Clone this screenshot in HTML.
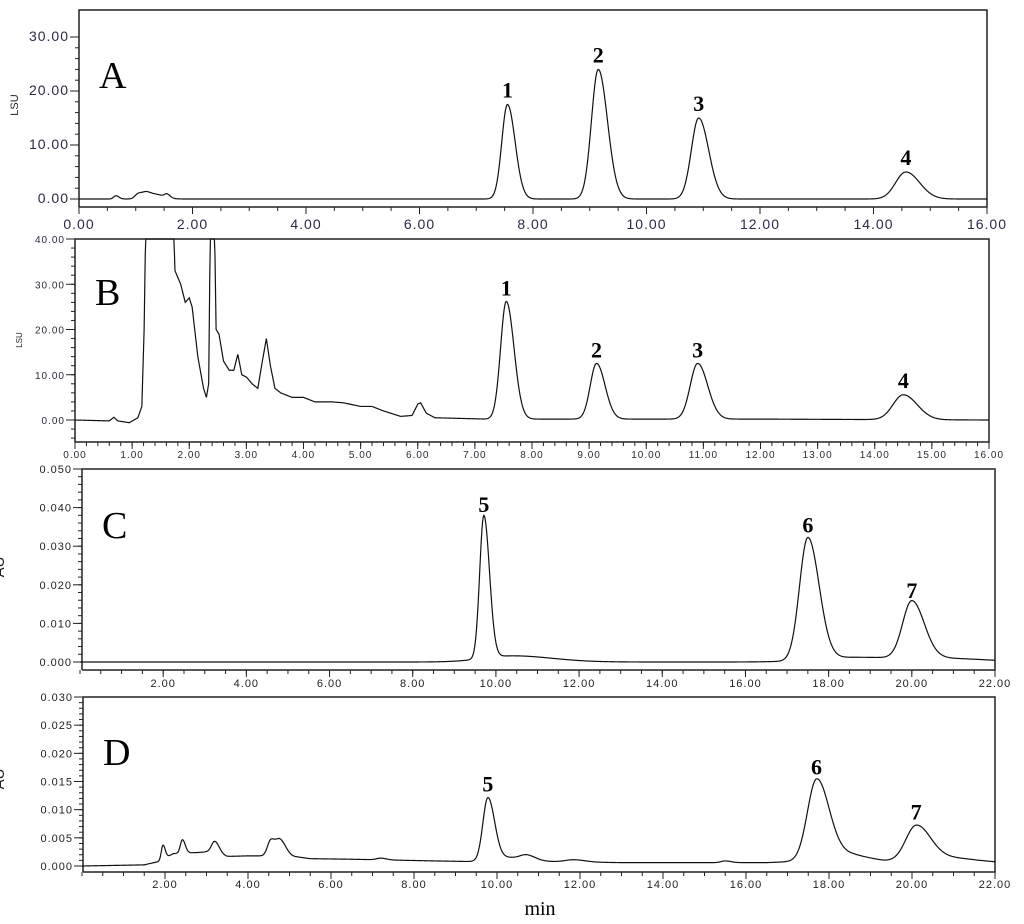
<!DOCTYPE html>
<html><head><meta charset="utf-8"><style>
html,body{margin:0;padding:0;background:#fff;}
svg{display:block;}
</style></head><body>
<svg id="chart" width="1024" height="924" viewBox="0 0 1024 924" xmlns="http://www.w3.org/2000/svg"></svg>
<script>
// ---- Panel A data (LSU) ----
const aPeakTimes = [0.65, 1.05, 1.2, 1.4, 1.55, 7.55, 9.15, 10.92, 14.57];
const aPeakHeights = [0.6, 1.0, 1.1, 0.7, 0.6, 17.5, 24.0, 15.0, 5.0];
const aPeakWidths = [0.04, 0.06, 0.07, 0.1, 0.04, 0.1, 0.12, 0.13, 0.18];
const aLabels = ["1","2","3","4"];
const aLabelTimes = [7.55, 9.15, 10.92, 14.57];
const aLabelValues = [17.5, 24.0, 15.0, 5.0];
// ---- Panel B data (LSU) ----
const bBaseTimes = [0,0.6,0.68,0.75,0.95,1.1,1.17,1.21,1.24,1.72,1.75,1.85,1.93,2.0,2.05,2.15,2.25,2.3,2.34,2.37,2.44,2.47,2.52,2.6,2.7,2.78,2.85,2.92,3.0,3.1,3.2,3.28,3.35,3.42,3.5,3.6,3.8,4.0,4.2,4.5,4.7,5.0,5.2,5.4,5.7,5.9,6.0,6.05,6.15,6.3,7.2,12,16];
const bBaseValues = [0,-0.2,0.6,-0.2,-0.6,0.5,3,20,45,45,33,30,26,27,25,14,7,5,8,45,45,20,19,13,11,11,14.5,10,9.5,8,7,13,18,12,7,6,5,5,4,4,3.8,3,3,2,0.8,1,3.5,3.8,1.5,0.5,0.2,0.2,0];
const bPeakTimes = [7.55, 9.13, 10.9, 14.5];
const bPeakHeights = [26, 12.3, 12.3, 5.5];
const bPeakWidths = [0.1, 0.11, 0.13, 0.18];
const bLabels = ["1","2","3","4"];
const bLabelValues = [26, 12.3, 12.3, 5.5];
// ---- Panel C data (AU) ----
const cPeakTimes = [9.71, 10.4, 17.5, 18.6, 20.0, 20.8];
const cPeakHeights = [0.037, 0.0016, 0.0317, 0.0012, 0.0148, 0.0008];
const cPeakWidths = [0.1, 0.7, 0.2, 0.9, 0.22, 0.8];
const cLabels = ["5","6","7"];
const cLabelTimes = [9.71, 17.5, 20.0];
const cLabelValues = [0.037, 0.0317, 0.0148];
// ---- Panel D data (AU) ----
const dBaseTimes = [0,1.5,1.85,2.2,2.8,3.0,3.5,4.0,4.4,5.2,5.5,6.5,8.5,9.3,11,13,15,16.5,18.6,19.4,21,22];
const dBaseValues = [0,0.0002,0.0008,0.0022,0.0024,0.0025,0.0017,0.0018,0.0018,0.0016,0.0013,0.0012,0.0009,0.0008,0.0008,0.0006,0.0006,0.0006,0.0012,0.0008,0.0007,0.0006];
const dPeakTimes = [1.95, 2.42, 3.2, 4.55, 4.78, 7.2, 9.78, 10.3, 10.72, 11.85, 15.5, 17.7, 18.3, 20.1, 20.8];
const dPeakHeights = [0.0025, 0.0024, 0.0022, 0.0028, 0.0028, 0.0003, 0.0112, 0.0007, 0.0008, 0.0004, 0.0003, 0.0142, 0.001, 0.0062, 0.0008];
const dPeakWidths = [0.04, 0.05, 0.08, 0.08, 0.1, 0.1, 0.12, 0.3, 0.15, 0.2, 0.1, 0.22, 0.4, 0.25, 0.5];
const dLabels = ["5","6","7"];
const dLabelTimes = [9.78, 17.7, 20.1];
const dLabelValues = [0.012, 0.015, 0.007];

const NS="http://www.w3.org/2000/svg";
const svg=document.getElementById('chart');
function el(t,a,p){const e=document.createElementNS(NS,t);for(const k in a)e.setAttribute(k,a[k]);(p||svg).appendChild(e);return e;}
function interp(ts,vs,t){if(!ts)return 0;if(t<=ts[0])return vs[0];for(let i=1;i<ts.length;i++){if(t<=ts[i]){const f=(t-ts[i-1])/(ts[i]-ts[i-1]);return vs[i-1]+f*(vs[i]-vs[i-1]);}}return vs[vs.length-1];}

function panel(cfg){
  const g=el('g',{});
  
  
  const X=t=>cfg.x0+(t-cfg.t0)*(cfg.x1-cfg.x0)/(cfg.t1-cfg.t0);
  const Y=v=>cfg.yv0+(v-cfg.v0)*(cfg.yv1-cfg.yv0)/(cfg.v1-cfg.v0);
  const fr=el('path',{d:`M${cfg.left} ${cfg.bottom} L${cfg.left} ${cfg.top} L${cfg.right} ${cfg.top} L${cfg.right} ${cfg.bottom} L${cfg.left} ${cfg.bottom}`,fill:'none',stroke:'#222','stroke-width':1.5},g);
  
  
  for(let v=cfg.yminStart;v<=cfg.v1+1e-9;v+=cfg.yminor){
    const y=Y(v); if(y<cfg.top-0.5||y>cfg.bottom)continue;
    el('line',{x1:cfg.left-4,x2:cfg.left,y1:y,y2:y,stroke:'#222','stroke-width':1},g);
  }
  cfg.yTicks.forEach(v=>{
    const y=Y(v);
    el('line',{x1:cfg.left-9,x2:cfg.left,y1:y,y2:y,stroke:'#222','stroke-width':1},g);
    const t=el('text',{x:cfg.left-10,y:y+4,'text-anchor':'end','font-family':'Liberation Sans, sans-serif','font-size':cfg.yfs,'letter-spacing':'1',fill:cfg.tickColor},g);
    t.textContent=v.toFixed(cfg.ydec);
    
    
  });
  for(let t=cfg.t0;t<=cfg.t1+1e-9;t+=cfg.xminor){
    const x=X(t);
    el('line',{x1:x,x2:x,y1:cfg.bottom,y2:cfg.bottom+4,stroke:'#222','stroke-width':1},g);
  }
  cfg.xTicks.forEach(v=>{
    const x=X(v);
    el('line',{x1:x,x2:x,y1:cfg.bottom,y2:cfg.bottom+7,stroke:'#222','stroke-width':1},g);
    const t=el('text',{x:x,y:cfg.bottom+cfg.xly,'text-anchor':'middle','font-family':'Liberation Sans, sans-serif','font-size':cfg.xfs,'letter-spacing':'1',fill:cfg.tickColor},g);
    t.textContent=v.toFixed(2);
    
    
  });
  let d='';
  for(let i=0;i<=1600;i++){
    const t=cfg.t0+(cfg.t1-cfg.t0)*i/1600;
    let v=interp(cfg.bt,cfg.bv,t);
    for(let k=0;k<cfg.pt.length;k++){
      const s=cfg.pw[k]*(t>cfg.pt[k]?1.35:1);
      v+=cfg.ph[k]*Math.exp(-0.5*((t-cfg.pt[k])/s)**2);
    }
    let y=Y(v); y=Math.max(cfg.top,Math.min(cfg.bottom,y));
    d+=(i?'L':'M')+X(t).toFixed(2)+' '+y.toFixed(2);
  }
  const tr=el('path',{d:d,fill:'none',stroke:'#111','stroke-width':1.2},g);
  
  
  cfg.lab.forEach((s,i)=>{
    const t=el('text',{x:X(cfg.lt[i]),y:Y(cfg.lv[i])-7,'text-anchor':'middle','font-family':'Liberation Serif, serif','font-size':22,'font-weight':'bold',fill:'#000'},g);
    t.textContent=s;
    
    
  });
  const L=el('text',{x:cfg.left+20,y:cfg.letterY,'font-family':'Liberation Serif, serif','font-size':38,fill:'#000'},g);
  L.textContent=cfg.letter;
  
  
  const yt=el('text',{x:cfg.ytx,y:cfg.yty,'text-anchor':'middle','font-family':'Liberation Sans, sans-serif','font-size':cfg.ytfs,fill:'#222',transform:`rotate(-90 ${cfg.ytx} ${cfg.yty})`},g);
  yt.textContent=cfg.ytitle;
  
  
}

panel({name:'panel-a',letter:'A',left:79,right:987,top:10,bottom:207,x0:79,x1:987,t0:0,t1:16,yv0:199,yv1:37,v0:0,v1:30,
  yTicks:[0,10,20,30],yminor:2,yminStart:-2,ydec:2,yfs:14,xfs:14,xly:22,xTicks:[0,2,4,6,8,10,12,14,16],xminor:0.5,tickColor:'#2a2a4a',
  pt:aPeakTimes,ph:aPeakHeights,pw:aPeakWidths,lab:aLabels,lt:aLabelTimes,lv:aLabelValues,letterY:88,ytx:18,yty:105,ytfs:11,ytitle:'LSU'});
panel({name:'panel-b',letter:'B',left:75,right:989,top:239,bottom:442,x0:75,x1:989,t0:0,t1:16,yv0:420,yv1:239,v0:0,v1:40,
  yTicks:[0,10,20,30,40],yminor:2,yminStart:-4,ydec:2,yfs:10,xfs:10,xly:16,xTicks:[0,1,2,3,4,5,6,7,8,9,10,11,12,13,14,15,16],xminor:0.2,tickColor:'#2a2a3a',
  bt:bBaseTimes,bv:bBaseValues,pt:bPeakTimes,ph:bPeakHeights,pw:bPeakWidths,lab:bLabels,lt:bPeakTimes,lv:bLabelValues,letterY:305,ytx:22,yty:340,ytfs:8,ytitle:'LSU'});
panel({name:'panel-c',letter:'C',left:82,right:995,top:469,bottom:670,x0:80,x1:995,t0:0,t1:22,yv0:662,yv1:469,v0:0,v1:0.05,
  yTicks:[0,0.01,0.02,0.03,0.04,0.05],yminor:0.002,yminStart:0,ydec:3,yfs:11,xfs:11,xly:17,xTicks:[2,4,6,8,10,12,14,16,18,20,22],xminor:0.5,tickColor:'#222',
  pt:cPeakTimes,ph:cPeakHeights,pw:cPeakWidths,lab:cLabels,lt:cLabelTimes,lv:cLabelValues,letterY:538,ytx:4,yty:567,ytfs:15,ytitle:'AU'});
panel({name:'panel-d',letter:'D',left:83,right:995,top:697,bottom:872,x0:82,x1:995,t0:0,t1:22,yv0:866,yv1:697,v0:0,v1:0.03,
  yTicks:[0,0.005,0.01,0.015,0.02,0.025,0.03],yminor:0.001,yminStart:0,ydec:3,yfs:11,xfs:11,xly:16,xTicks:[2,4,6,8,10,12,14,16,18,20,22],xminor:0.5,tickColor:'#222',
  bt:dBaseTimes,bv:dBaseValues,pt:dPeakTimes,ph:dPeakHeights,pw:dPeakWidths,lab:dLabels,lt:dLabelTimes,lv:dLabelValues,letterY:765,ytx:4,yty:779,ytfs:15,ytitle:'AU'});

const mt=el('text',{x:540,y:915,'text-anchor':'middle','font-family':'Liberation Serif, serif','font-size':20,fill:'#000'});
mt.textContent='min';


</script>
</body></html>
